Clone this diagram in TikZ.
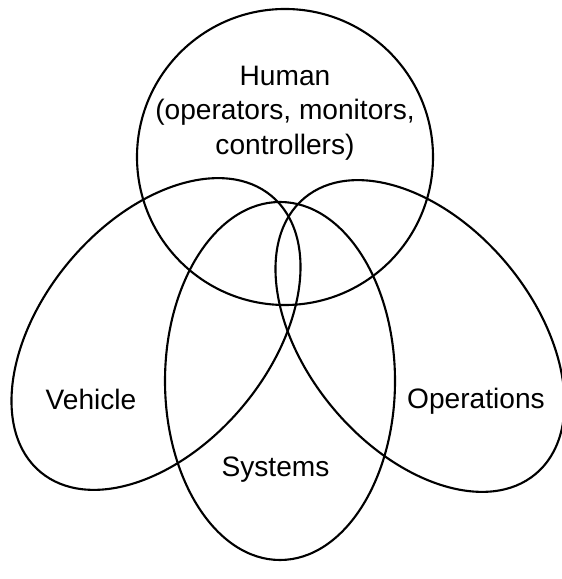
\documentclass[tikz,border=0pt]{standalone}
\usepackage{fontspec}
\setmainfont{Liberation Sans}
\usepackage{tikz}

\tikzset{
  set/.style={draw, line width=1.2pt},
  setname/.style={font=\fontsize{16}{19.5}\selectfont, align=center, inner sep=0pt}
}

\begin{document}
\begin{tikzpicture}
  \useasboundingbox (0,0) rectangle (11.22,11.58);
  \draw[set] (5.70,8.44) circle (2.96);
  \draw[set] (5.60,3.96) ellipse [x radius=2.30, y radius=3.58];
  \draw[set, rotate around={50:(3.12,4.90)}] (3.12,4.90) ellipse [x radius=3.60, y radius=2.26];
  \draw[set, rotate around={-50:(8.40,4.86)}] (8.40,4.86) ellipse [x radius=3.60, y radius=2.26];
  \node[setname] (human) at (5.70,9.32) {Human\\(operators, monitors,\\controllers)};
  \node[setname] (vehicle) at (1.82,3.60) {Vehicle};
  \node[setname] (operations) at (9.52,3.56) {Operations};
  \node[setname] (systems) at (5.51,2.18) {Systems};
\end{tikzpicture}
\end{document}
